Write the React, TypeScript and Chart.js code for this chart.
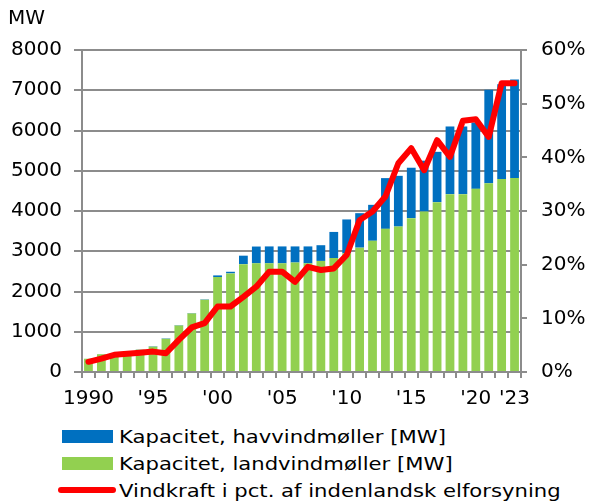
import React, { useEffect, useRef } from 'react';
import { Chart, registerables } from 'chart.js';

Chart.register(...registerables);

const years = [
  '1990', '1991', '1992', '1993', '1994', '1995', '1996', '1997', '1998', '1999',
  '2000', '2001', '2002', '2003', '2004', '2005', '2006', '2007', '2008', '2009',
  '2010', '2011', '2012', '2013', '2014', '2015', '2016', '2017', '2018', '2019',
  '2020', '2021', '2022', '2023',
];

const landMW = [
  330, 440, 465, 495, 555, 630, 825, 1155, 1455, 1795,
  2360, 2450, 2680, 2700, 2700, 2700, 2720, 2700, 2760, 2830,
  2950, 3090, 3260, 3556, 3614, 3822, 3987, 4220, 4419, 4419,
  4550, 4690, 4792, 4817,
];

const havMW = [
  0, 5, 5, 5, 5, 10, 10, 10, 10, 10,
  40, 40, 210, 417, 420, 420, 400, 420, 390, 650,
  840, 856, 893, 1261, 1260, 1253, 1263, 1250, 1681, 1681,
  1650, 2323, 2358, 2453,
];

const windPct = [
  1.9, 2.5, 3.2, 3.4, 3.6, 3.8, 3.5, 6.0, 8.3, 9.1,
  12.2, 12.2, 14.0, 15.9, 18.7, 18.7, 16.8, 19.6, 19.0, 19.3,
  21.8, 28.3, 29.9, 32.7, 38.9, 41.7, 37.6, 43.2, 40.1, 46.8,
  47.1, 43.8, 53.8, 53.8,
];

const xTickYears = ['1990', '1995', '2000', '2005', '2010', '2015', '2020', '2023'];
const xTickLabels = ['1990', "'95", "'00", "'05", "'10", "'15", "'20", "'23"];

const labelHav = 'Kapacitet, havvindmøller [MW]';
const labelLand = 'Kapacitet, landvindmøller [MW]';
const labelPct = 'Vindkraft i pct. af indenlandsk elforsyning';
const unitTitle = 'MW';

const BLUE = '#0070C0';
const GREEN = '#92D050';
const RED = '#FF0000';
const GRAY = '#8c8c8c';
const FONT = "'DejaVu Sans', Verdana, sans-serif";
const TICK_SIZE = 20;

export default function App() {
  const canvasRef = useRef<HTMLCanvasElement | null>(null);

  useEffect(() => {
    const canvas = canvasRef.current;
    if (!canvas) return;
    const chart = new Chart(canvas, {
      type: 'bar',
      data: {
        labels: years,
        datasets: [
          {
            type: 'line',
            label: labelPct,
            data: windPct,
            yAxisID: 'y1',
            borderColor: RED,
            backgroundColor: RED,
            borderWidth: 6,
            pointRadius: 0,
            tension: 0,
            fill: false,
            borderJoinStyle: 'round',
            borderCapStyle: 'round',
            order: 0,
          } as any,
          {
            label: labelLand,
            data: landMW,
            backgroundColor: GREEN,
            yAxisID: 'y',
            barPercentage: 0.68,
            categoryPercentage: 1,
            order: 1,
          },
          {
            label: labelHav,
            data: havMW,
            backgroundColor: BLUE,
            yAxisID: 'y',
            barPercentage: 0.68,
            categoryPercentage: 1,
            order: 1,
          },
        ],
      },
      options: {
        responsive: false,
        animation: false,
        devicePixelRatio: 1,
        layout: { padding: { left: 8, right: 0, top: 0, bottom: 0 } },
        font: { family: FONT, size: TICK_SIZE },
        plugins: {
          legend: { display: false },
          tooltip: { enabled: false },
          title: {
            display: true,
            text: unitTitle,
            align: 'start',
            color: '#000',
            font: { family: FONT, size: TICK_SIZE, weight: 'normal' },
            padding: { top: 7, bottom: 19 },
          },
        },
        scales: {
          x: {
            type: 'category',
            stacked: true,
            offset: true,
            grid: {
              display: true,
              offset: true,
              drawOnChartArea: false,
              drawTicks: true,
              tickLength: 6,
              color: GRAY,
              lineWidth: 2,
            },
            border: { display: true, color: GRAY, width: 2 },
            ticks: {
              autoSkip: false,
              maxRotation: 0,
              minRotation: 0,
              padding: 9,
              color: '#000',
              font: { family: FONT, size: TICK_SIZE },
              callback: (_v: any, idx: number) => {
                const k = xTickYears.indexOf(years[idx]);
                return k >= 0 ? xTickLabels[k] : '';
              },
            },
            afterFit: (scale: any) => {
              scale.height = 48;
            },
          },
          y: {
            position: 'left',
            stacked: true,
            min: 0,
            max: 8000,
            grid: { color: GRAY, lineWidth: 2, tickLength: 8 },
            border: { display: true, color: GRAY, width: 2 },
            ticks: {
              stepSize: 1000,
              padding: 12,
              color: '#000',
              font: { family: FONT, size: TICK_SIZE },
              callback: (v: any) => String(v),
            },
            afterFit: (scale: any) => {
              scale.width = 74;
            },
          },
          y1: {
            position: 'right',
            min: 0,
            max: 60,
            grid: { drawOnChartArea: false, color: GRAY, lineWidth: 2, tickLength: 6 },
            border: { display: true, color: GRAY, width: 2 },
            ticks: {
              stepSize: 10,
              padding: 14,
              color: '#000',
              font: { family: FONT, size: TICK_SIZE },
              callback: (v: any) => v + '%',
            },
            afterFit: (scale: any) => {
              scale.width = 71;
            },
          },
        },
      } as any,
    });
    return () => chart.destroy();
  }, []);

  const legendItems = [
    { label: labelHav, color: BLUE, kind: 'box' },
    { label: labelLand, color: GREEN, kind: 'box' },
    { label: labelPct, color: RED, kind: 'line' },
  ];

  return (
    <div style={{ position: 'fixed', left: 0, top: 0, width: 592, height: 502, background: '#fff', overflow: 'hidden' }}>
      <canvas ref={canvasRef} width={592} height={420} style={{ position: 'absolute', left: 0, top: 0 }} />
      {legendItems.map((it, i) => (
        <div
          key={it.label}
          style={{
            position: 'absolute',
            left: 0,
            top: 422.5 + i * 27,
            height: 27,
            width: 592,
            fontFamily: FONT,
            fontSize: 18,
            color: '#000',
            whiteSpace: 'nowrap',
          }}
        >
          {it.kind === 'box' ? (
            <div style={{ position: 'absolute', left: 62, top: 7, width: 51, height: 13, background: it.color }} />
          ) : (
            <div style={{ position: 'absolute', left: 58, top: 10.5, width: 58, height: 6, borderRadius: 3, background: it.color }} />
          )}
          <span
            style={{
              position: 'absolute',
              left: 119,
              top: 0,
              lineHeight: '27px',
              transform: 'scaleX(1.175)',
              transformOrigin: 'left center',
            }}
          >
            {it.label}
          </span>
        </div>
      ))}
    </div>
  );
}
